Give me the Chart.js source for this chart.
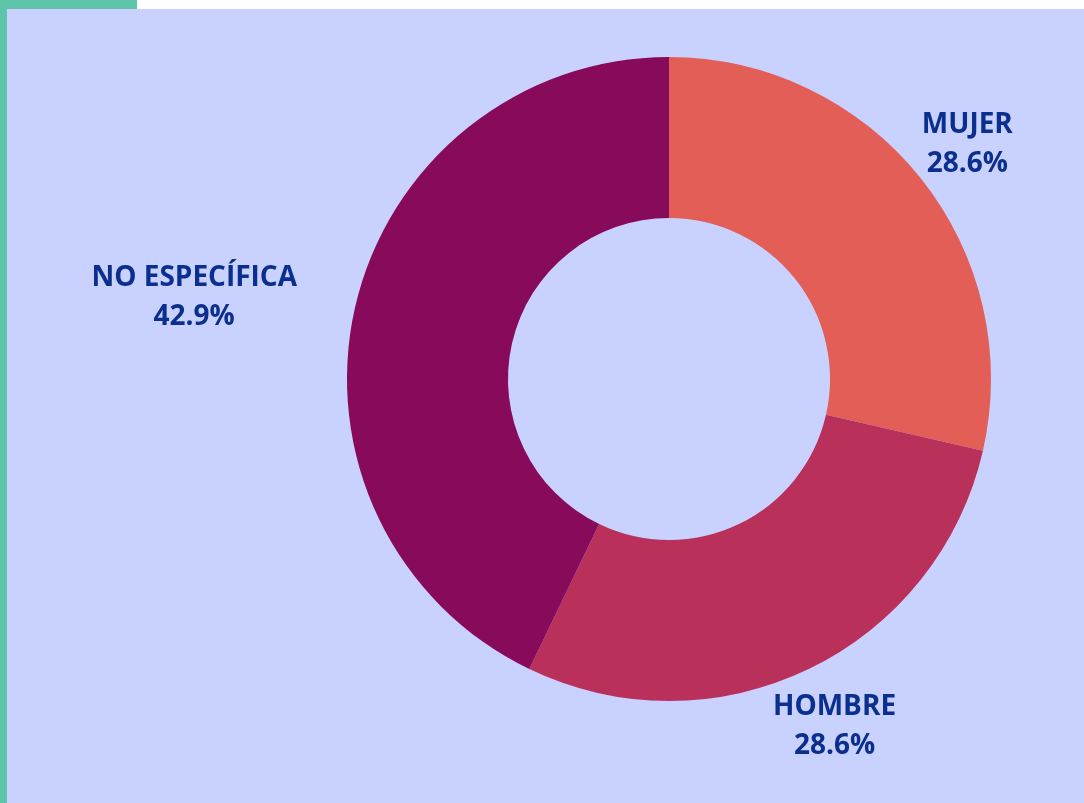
<!DOCTYPE html>
<html>
<head>
<meta charset="utf-8">
<script src="https://cdn.jsdelivr.net/npm/chart.js@4"></script>
<style>
  html, body { margin: 0; padding: 0; background: #fff; }
  #wrap {
    position: absolute; left: 0; top: 0; width: 1084px; height: 803px;
  }
  #tab { position: absolute; left: 0; top: 0; width: 137px; height: 9px; background: #5FC5AA; }
  #side { position: absolute; left: 0; top: 9px; width: 7px; height: 794px; background: #5FC5AA; }
  #box {
    position: absolute; left: 7px; top: 9px; width: 1077px; height: 794px; background: #C9D1FF;
  }
</style>
</head>
<body>
<div id="wrap">
  <div id="tab"></div>
  <div id="side"></div>
  <div id="box"><canvas id="chart"></canvas></div>
</div>
<script>
const labels = ['MUJER', 'HOMBRE', 'NO ESPECÍFICA'];
const values = [2, 2, 3];
const colors = ['#E35E57', '#B9305B', '#870A5B'];

const total = values.reduce((a, b) => a + b, 0);

// draw name + percentage outside each slice, block centred
const outsideLabels = {
  id: 'outsideLabels',
  afterDatasetsDraw(chart) {
    const ctx = chart.ctx;
    const meta = chart.getDatasetMeta(0);
    ctx.save();
    ctx.font = 'bold 28px "Open Sans"';
    ctx.fillStyle = '#0B2F8E';
    ctx.textBaseline = 'middle';
    ctx.textAlign = 'center';
    meta.data.forEach((arc, i) => {
      const mid = (arc.startAngle + arc.endAngle) / 2;
      const r = arc.outerRadius * 1.185;
      let x = arc.x + Math.cos(mid) * r;
      const y = arc.y + Math.sin(mid) * r;
      const pct = (values[i] / total * 100).toFixed(1) + '%';
      const w = Math.max(ctx.measureText(labels[i]).width, ctx.measureText(pct).width);
      const c = Math.cos(mid);
      if (c < -0.9) x -= w / 2;
      else if (c > 0.9) x += w / 2;
      ctx.fillText(labels[i], x, y - 16);
      ctx.fillText(pct, x, y + 23);
    });
    ctx.restore();
  }
};

new Chart(document.getElementById('chart'), {
  type: 'doughnut',
  data: {
    labels: labels,
    datasets: [{
      data: values,
      backgroundColor: colors,
      borderWidth: 0
    }]
  },
  options: {
    responsive: true,
    maintainAspectRatio: false,
    animation: false,
    cutout: '50%',
    layout: { padding: { left: 340, right: 93, top: 48, bottom: 102 } },
    plugins: {
      legend: { display: false },
      tooltip: { enabled: false }
    }
  },
  plugins: [outsideLabels]
});
</script>
</body>
</html>
